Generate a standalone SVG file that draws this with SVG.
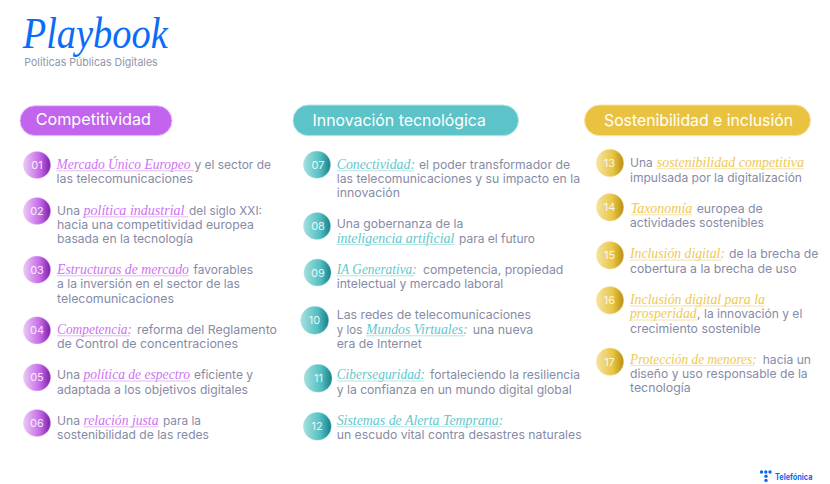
<svg xmlns="http://www.w3.org/2000/svg" width="830" height="484" viewBox="0 0 830 484">
<defs>
<linearGradient id="gp"><stop offset="0" stop-color="#eccaf8"/><stop offset=".6" stop-color="#c56ae6"/><stop offset="1" stop-color="#7a1fa8"/></linearGradient>
<linearGradient id="gt"><stop offset="0" stop-color="#a6e0df"/><stop offset=".6" stop-color="#55bfc2"/><stop offset="1" stop-color="#16808a"/></linearGradient>
<linearGradient id="gy"><stop offset="0" stop-color="#f6e3a4"/><stop offset=".6" stop-color="#e8c543"/><stop offset="1" stop-color="#b98f14"/></linearGradient>
</defs>
<style>
text{font-family:"Inter","Liberation Sans",sans-serif}
.s{font-size:12px;fill:#868ba6}
.i{font-family:"Liberation Serif",serif;font-style:italic;font-size:15px}
.n{font-size:11px;fill:#fff;text-anchor:middle;opacity:.85}
.h{font-size:16.5px;fill:#fff}
.c{stroke-width:1;stroke-opacity:.35}
.p .i{fill:#cf72f2}.t .i{fill:#62c8cb}.y .i{fill:#efc951}
.p line{stroke:#e6b8f7}.t line{stroke:#b2e4e4}.y line{stroke:#f6e2a4}
.p circle.c{fill:url(#gp);stroke:#e6b8f7}.t circle.c{fill:url(#gt);stroke:#b2e4e4}.y circle.c{fill:url(#gy);stroke:#f6e2a4}
line{stroke-width:1}
.b{fill:#0b67f5}
</style>
<rect width="830" height="484" fill="#fff"/>
<g id="title">
<text x="22.7" y="48.3" font-size="44" fill="#0b6cf7" style="font-family:'Liberation Serif',serif;font-style:italic" textLength="145" lengthAdjust="spacingAndGlyphs">Playbook</text>
<text x="24.3" y="66" font-size="11" fill="#8f97ab" textLength="133.4" lengthAdjust="spacingAndGlyphs">Políticas Públicas Digitales</text>
</g>
<g id="col-competitividad" class="p">
<g id="header-competitividad"><rect x="20" y="105.7" width="152" height="30" rx="15" fill="#c264ee" stroke="#e6c4f6"/><text class="h" x="35.7" y="125" textLength="115.3" lengthAdjust="spacingAndGlyphs">Competitividad</text></g>
<g id="n01"><circle class="c" cx="37" cy="165" r="13.6"/><text class="n" x="37" y="169">01</text>
<text class="i" x="56.5" y="169" textLength="134" lengthAdjust="spacingAndGlyphs">Mercado Único Europeo</text><line x1="56.5" x2="194" y1="170.8" y2="170.8"/><text class="s" x="194.5" y="169" textLength="76.5" lengthAdjust="spacingAndGlyphs">y el sector de</text>
<text class="s" x="56.5" y="183.3" textLength="136.5" lengthAdjust="spacingAndGlyphs">las telecomunicaciones</text></g>
<g id="n02"><circle class="c" cx="37" cy="211" r="13.6"/><text class="n" x="37" y="215">02</text>
<text class="s" x="57" y="215" textLength="23" lengthAdjust="spacingAndGlyphs">Una</text><text class="i" x="83.5" y="215" textLength="101" lengthAdjust="spacingAndGlyphs">política industrial</text><line x1="83.5" x2="188" y1="216.8" y2="216.8"/><text class="s" x="189" y="215" textLength="73" lengthAdjust="spacingAndGlyphs">del siglo XXI:</text>
<text class="s" x="57" y="229" textLength="197" lengthAdjust="spacingAndGlyphs">hacia una competitividad europea</text>
<text class="s" x="57" y="243.3" textLength="136" lengthAdjust="spacingAndGlyphs">basada en la tecnología</text></g>
<g id="n03"><circle class="c" cx="37" cy="269.7" r="13.6"/><text class="n" x="37" y="273.7">03</text>
<text class="i" x="57" y="274" textLength="132" lengthAdjust="spacingAndGlyphs">Estructuras de mercado</text><line x1="57" x2="189" y1="275.8" y2="275.8"/><text class="s" x="193.5" y="274" textLength="59.5" lengthAdjust="spacingAndGlyphs">favorables</text>
<text class="s" x="57" y="288.3" textLength="183" lengthAdjust="spacingAndGlyphs">a la inversión en el sector de las</text>
<text class="s" x="57" y="302.7" textLength="117" lengthAdjust="spacingAndGlyphs">telecomunicaciones</text></g>
<g id="n04"><circle class="c" cx="37" cy="330.3" r="13.6"/><text class="n" x="37" y="334.3">04</text>
<text class="i" x="57" y="334" textLength="75" lengthAdjust="spacingAndGlyphs">Competencia:</text><line x1="57" x2="130" y1="335.8" y2="335.8"/><text class="s" x="137" y="334" textLength="140" lengthAdjust="spacingAndGlyphs">reforma del Reglamento</text>
<text class="s" x="57" y="348" textLength="181" lengthAdjust="spacingAndGlyphs">de Control de concentraciones</text></g>
<g id="n05"><circle class="c" cx="37" cy="377.3" r="13.6"/><text class="n" x="37" y="381.3">05</text>
<text class="s" x="57" y="379.3" textLength="23" lengthAdjust="spacingAndGlyphs">Una</text><text class="i" x="83.5" y="379.3" textLength="106.5" lengthAdjust="spacingAndGlyphs">política de espectro</text><line x1="83.5" x2="190" y1="381" y2="381"/><text class="s" x="194" y="379.3" textLength="59" lengthAdjust="spacingAndGlyphs">eficiente y</text>
<text class="s" x="57" y="393.7" textLength="191" lengthAdjust="spacingAndGlyphs">adaptada a los objetivos digitales</text></g>
<g id="n06"><circle class="c" cx="37" cy="423" r="13.6"/><text class="n" x="37" y="427">06</text>
<text class="s" x="57" y="425" textLength="23" lengthAdjust="spacingAndGlyphs">Una</text><text class="i" x="83.5" y="425" textLength="75" lengthAdjust="spacingAndGlyphs">relación justa</text><line x1="83.5" x2="158.5" y1="426.8" y2="426.8"/><text class="s" x="163" y="425" textLength="38" lengthAdjust="spacingAndGlyphs">para la</text>
<text class="s" x="57" y="439" textLength="152" lengthAdjust="spacingAndGlyphs">sostenibilidad de las redes</text></g>
</g>
<g id="col-innovacion" class="t">
<g id="header-innovacion"><rect x="293" y="105" width="225.5" height="30.7" rx="15.3" fill="#5cc3c8" stroke="#b8e6e6"/><text class="h" x="312.5" y="126" textLength="173.5" lengthAdjust="spacingAndGlyphs">Innovación tecnológica</text></g>
<g id="n07"><circle class="c" cx="317" cy="164.7" r="13.6"/><text class="n" x="318" y="168.8">07</text>
<text class="i" x="336.7" y="169" textLength="78.3" lengthAdjust="spacingAndGlyphs">Conectividad:</text><line x1="336.7" x2="414" y1="170.8" y2="170.8"/><text class="s" x="419" y="169" textLength="151" lengthAdjust="spacingAndGlyphs">el poder transformador de</text>
<text class="s" x="336.7" y="183.3" textLength="243.3" lengthAdjust="spacingAndGlyphs">las telecomunicaciones y su impacto en la</text>
<text class="s" x="336.7" y="197.3" textLength="63.3" lengthAdjust="spacingAndGlyphs">innovación</text></g>
<g id="n08"><circle class="c" cx="317" cy="226" r="13.6"/><text class="n" x="318" y="230.2">08</text>
<text class="s" x="336.7" y="228.3" textLength="126.6" lengthAdjust="spacingAndGlyphs">Una gobernanza de la</text>
<text class="i" x="336.7" y="242.7" textLength="117.6" lengthAdjust="spacingAndGlyphs">inteligencia artificial</text><line x1="336.7" x2="454.3" y1="244.5" y2="244.5"/><text class="s" x="459" y="242.7" textLength="76" lengthAdjust="spacingAndGlyphs">para el futuro</text></g>
<g id="n09"><circle class="c" cx="317.5" cy="272.5" r="13.6"/><text class="n" x="318" y="276.6">09</text>
<text class="i" x="336.7" y="274" textLength="80" lengthAdjust="spacingAndGlyphs">IA Generativa:</text><line x1="336.7" x2="414" y1="275.8" y2="275.8"/><text class="s" x="423" y="274" textLength="140.3" lengthAdjust="spacingAndGlyphs">competencia, propiedad</text>
<text class="s" x="336.7" y="288.3" textLength="166.6" lengthAdjust="spacingAndGlyphs">intelectual y mercado laboral</text></g>
<g id="n10"><circle class="c" cx="314.7" cy="320.3" r="14"/><text class="n" x="314.5" y="324.3">10</text>
<text class="s" x="336.7" y="319.3" textLength="194.3" lengthAdjust="spacingAndGlyphs">Las redes de telecomunicaciones</text>
<text class="s" x="336.7" y="334" textLength="25.6" lengthAdjust="spacingAndGlyphs">y los</text><text class="i" x="366" y="334" textLength="101.7" lengthAdjust="spacingAndGlyphs">Mundos Virtuales:</text><line x1="366" x2="465" y1="335.8" y2="335.8"/><text class="s" x="472.7" y="334" textLength="60.6" lengthAdjust="spacingAndGlyphs">una nueva</text>
<text class="s" x="336.7" y="348.3" textLength="85" lengthAdjust="spacingAndGlyphs">era de Internet</text></g>
<g id="n11"><circle class="c" cx="318" cy="378.3" r="14"/><text class="n" x="318.5" y="382.4">11</text>
<text class="i" x="336.7" y="379.3" textLength="88.3" lengthAdjust="spacingAndGlyphs">Ciberseguridad:</text><line x1="336.7" x2="424" y1="381" y2="381"/><text class="s" x="430" y="379.3" textLength="150" lengthAdjust="spacingAndGlyphs">fortaleciendo la resiliencia</text>
<text class="s" x="336.7" y="394" textLength="235" lengthAdjust="spacingAndGlyphs">y la confianza en un mundo digital global</text></g>
<g id="n12"><circle class="c" cx="317.3" cy="426.3" r="14"/><text class="n" x="317" y="430.4">12</text>
<text class="i" x="336.7" y="425" textLength="166.6" lengthAdjust="spacingAndGlyphs">Sistemas de Alerta Temprana:</text><line x1="336.7" x2="500" y1="426.8" y2="426.8"/>
<text class="s" x="336.7" y="439.3" textLength="245" lengthAdjust="spacingAndGlyphs">un escudo vital contra desastres naturales</text></g>
</g>
<g id="col-sostenibilidad" class="y">
<g id="header-sostenibilidad"><rect x="584.5" y="105" width="226" height="30.7" rx="15.3" fill="#e9c33f" stroke="#f6e3a6"/><text class="h" x="604" y="126" textLength="189" lengthAdjust="spacingAndGlyphs">Sostenibilidad e inclusión</text></g>
<g id="n13"><circle class="c" cx="610" cy="163" r="13.7"/><text class="n" x="609.5" y="167">13</text>
<text class="s" x="630" y="167" textLength="22.7" lengthAdjust="spacingAndGlyphs">Una</text><text class="i" x="656.7" y="167" textLength="147.3" lengthAdjust="spacingAndGlyphs">sostenibilidad competitiva</text><line x1="656.7" x2="804" y1="168.8" y2="168.8"/>
<text class="s" x="630" y="181.7" textLength="172" lengthAdjust="spacingAndGlyphs">impulsada por la digitalización</text></g>
<g id="n14"><circle class="c" cx="610" cy="207.3" r="13.7"/><text class="n" x="609.5" y="211.3">14</text>
<text class="i" x="630.7" y="213" textLength="61.6" lengthAdjust="spacingAndGlyphs">Taxonomía</text><line x1="630.7" x2="692.3" y1="214.8" y2="214.8"/><text class="s" x="696.7" y="213" textLength="66" lengthAdjust="spacingAndGlyphs">europea de</text>
<text class="s" x="630" y="227" textLength="134" lengthAdjust="spacingAndGlyphs">actividades sostenibles</text></g>
<g id="n15"><circle class="c" cx="610" cy="255.3" r="13.7"/><text class="n" x="609.5" y="259.3">15</text>
<text class="i" x="630" y="258.3" textLength="95" lengthAdjust="spacingAndGlyphs">Inclusión digital:</text><line x1="630" x2="722" y1="260" y2="260"/><text class="s" x="729" y="258.3" textLength="89.3" lengthAdjust="spacingAndGlyphs">de la brecha de</text>
<text class="s" x="630" y="272.7" textLength="166.7" lengthAdjust="spacingAndGlyphs">cobertura a la brecha de uso</text></g>
<g id="n16"><circle class="c" cx="610" cy="300.3" r="13.7"/><text class="n" x="609.5" y="304.3">16</text>
<text class="i" x="630" y="304.3" textLength="135" lengthAdjust="spacingAndGlyphs">Inclusión digital para la</text><line x1="630" x2="765" y1="306" y2="306"/>
<text class="i" x="630" y="318.3" textLength="66.7" lengthAdjust="spacingAndGlyphs">prosperidad</text><line x1="630" x2="696.7" y1="320" y2="320"/><text class="s" x="697" y="318.3">,</text><text class="s" x="704" y="318.3" textLength="98.3" lengthAdjust="spacingAndGlyphs">la innovación y el</text>
<text class="s" x="630" y="332.7" textLength="130.7" lengthAdjust="spacingAndGlyphs">crecimiento sostenible</text></g>
<g id="n17"><circle class="c" cx="610" cy="361.7" r="13.7"/><text class="n" x="609.5" y="365.7">17</text>
<text class="i" x="630" y="363.7" textLength="126.7" lengthAdjust="spacingAndGlyphs">Protección de menores:</text><line x1="630" x2="754" y1="365.4" y2="365.4"/><text class="s" x="762.7" y="363.7" textLength="48.3" lengthAdjust="spacingAndGlyphs">hacia un</text>
<text class="s" x="630" y="377.7" textLength="177.7" lengthAdjust="spacingAndGlyphs">diseño y uso responsable de la</text>
<text class="s" x="630" y="392.3" textLength="60.7" lengthAdjust="spacingAndGlyphs">tecnología</text></g>
</g>
<g id="logo">
<circle class="b" cx="761.5" cy="472" r="1.7"/><circle class="b" cx="765.8" cy="472" r="1.7"/><circle class="b" cx="770" cy="472" r="1.7"/>
<circle class="b" cx="766" cy="476.2" r="1.7"/><circle class="b" cx="766" cy="480.4" r="1.7"/>
<text x="775" y="479.5" font-size="8.5" font-weight="700" class="b" textLength="37.5" lengthAdjust="spacingAndGlyphs">Telefónica</text>
</g>
</svg>
